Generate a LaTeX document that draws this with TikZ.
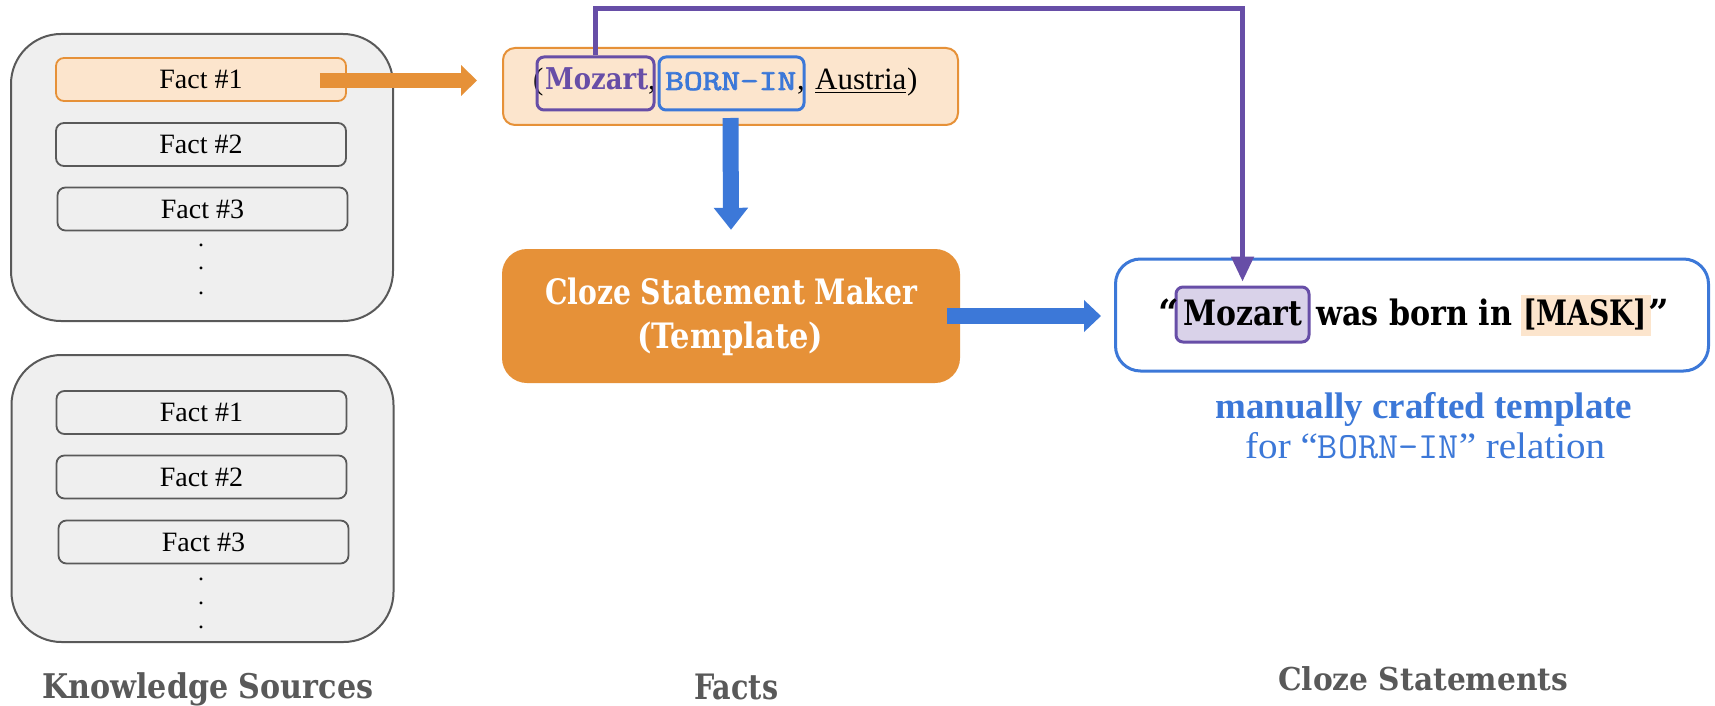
\documentclass[tikz,border=0pt]{standalone}
\usepackage{fontspec}
\usepackage{graphicx}
\setmainfont{Liberation Serif}
\newfontfamily\dvs{DejaVu Serif}
\newfontfamily\lmtt{Latin Modern Mono}
\newfontfamily\lmttb{Latin Modern Mono}[FakeBold=2.5]
\usetikzlibrary{arrows.meta,calc}
\definecolor{kgray}{HTML}{595959}
\definecolor{boxgray}{HTML}{EFEFEF}
\definecolor{orng}{HTML}{E69138}
\definecolor{lorng}{HTML}{FCE5CD}
\definecolor{purp}{HTML}{674EA7}
\definecolor{lpurp}{HTML}{D9D2E9}
\definecolor{blu}{HTML}{3C78D8}
\newcommand\fsz[1]{\fontsize{#1pt}{#1pt}\selectfont}
\newcommand\fitw[2]{\resizebox{#1pt}{\height}{#2}}
\tikzset{
  ksbox/.style={draw=kgray, fill=boxgray, line width=2pt, rounded corners=50pt,
    minimum width=382pt, minimum height=287pt, inner sep=0pt},
  factbox/.style={draw=kgray, fill=boxgray, line width=1.8pt, rounded corners=8pt,
    minimum width=290pt, minimum height=43pt, inner sep=0pt, font=\fsz{28}},
  hifact/.style={factbox, draw=orng, fill=lorng},
  dotn/.style={inner sep=0pt, anchor=base, font=\fsz{24}},
  txt/.style={inner sep=0pt, anchor=base west},
  ctxt/.style={inner sep=0pt, anchor=base},
  hlbox/.style={line width=3pt, rounded corners=7pt, inner sep=0pt},
  blockarrow/.style={line width=#1},
}
\begin{document}
\begin{tikzpicture}[x=1pt,y=-1pt]
\useasboundingbox (0,0) rectangle (1715,706);
\fill[white] (0,0) rectangle (1715,706);

% Knowledge source 1
\node[ksbox] (ks1) at (202,177.5) {};
\node[hifact] (f11) at (201,79.5) {Fact \#1};
\node[factbox] (f12) at (201,144.5) {Fact \#2};
\node[factbox] (f13) at (202.5,209) {Fact \#3};
\node[dotn] (d11) at (201,246.5) {.};
\node[dotn] (d12) at (201,269.5) {.};
\node[dotn] (d13) at (201,294.5) {.};

% Knowledge source 2
\node[ksbox] (ks2) at (202.5,498.5) {};
\node[factbox] (f21) at (201.5,412.5) {Fact \#1};
\node[factbox] (f22) at (201.5,477) {Fact \#2};
\node[factbox] (f23) at (203.5,542) {Fact \#3};
\node[dotn] (d21) at (201,580.5) {.};
\node[dotn] (d22) at (201,604.5) {.};
\node[dotn] (d23) at (201,628.5) {.};

% Fact tuple
\node[draw=orng, fill=lorng, line width=2pt, rounded corners=12pt,
  minimum width=455pt, minimum height=77pt, inner sep=0pt] (fb) at (730.5,86.5) {};
\node[txt, font=\fsz{31}] (lp) at (533,90) {(};
\node[txt, text=purp] (mzt1) at (545,90) {\fitw{103}{\dvs\bfseries\fsz{30}Mozart}};
\node[txt, font=\fsz{31}] (c1) at (648,90) {,};
\node[txt, text=blu] (bit) at (665,90) {\fitw{131}{\lmttb\fsz{29}BORN-IN}};
\node[txt, font=\fsz{31}] (c2) at (797,90) {,};
\node[txt, font=\fsz{31}] (au) at (815,90) {\underline{Austria}};
\node[txt, font=\fsz{31}] (rp) at (907,90) {)};
\node[hlbox, draw=purp, minimum width=117pt, minimum height=53pt] (mz1) at (595.5,83.5) {};
\node[hlbox, draw=blu, minimum width=145pt, minimum height=53pt] (bi) at (731.5,83.5) {};

% Cloze statement maker
\node[fill=orng, rounded corners=25pt, minimum width=458pt, minimum height=134pt,
  inner sep=0pt] (cm) at (731,316) {};
\node[ctxt, text=white] (cm1) at (731,304) {\fitw{372}{\dvs\bfseries\fsz{35}Cloze Statement Maker}};
\node[ctxt, text=white] (cm2) at (730,348) {\fitw{186}{\dvs\bfseries\fsz{35}(Template)}};

% Cloze statement
\node[draw=blu, fill=white, line width=3pt, rounded corners=25pt, minimum width=593pt,
  minimum height=112pt, inner sep=0pt] (cz) at (1412,315) {};
\node[fill=lorng, minimum width=130pt, minimum height=41pt, inner sep=0pt] (mk) at (1586,315.5) {};
\node[hlbox, draw=purp, fill=lpurp, minimum width=133pt, minimum height=55pt] (mz2) at (1242.5,314.5) {};
\node[txt] (q1) at (1158,325) {\dvs\bfseries\fsz{36}“};
\node[txt] (mzt2) at (1183,325) {\fitw{119}{\dvs\bfseries\fsz{35}Mozart}};
\node[txt] (wbi) at (1316,325) {\fitw{196}{\dvs\bfseries\fsz{35}was born in}};
\node[txt] (mkt) at (1523,325) {\fitw{124}{\dvs\bfseries\fsz{35}[MASK]}};
\node[txt] (q2) at (1648,325) {\dvs\bfseries\fsz{36}”};

\node[txt, text=blu] (mc1) at (1215,418) {\fitw{417}{\bfseries\fsz{37}manually crafted template}};
\node[txt, text=blu] (mc2) at (1245,458) {\fitw{360}{\fsz{37}for “{\lmtt BORN-IN}” relation}};

% Bottom labels
\node[txt, text=kgray] (lks) at (42,698) {\fitw{331}{\dvs\bfseries\fsz{34}Knowledge Sources}};
\node[txt, text=kgray] (lf) at (694,699) {\fitw{84}{\dvs\bfseries\fsz{35}Facts}};
\node[txt, text=kgray] (lcs) at (1278,690) {\fitw{290}{\dvs\bfseries\fsz{31.5}Cloze Statements}};

% Connectors
\coordinate (top) at (0,9);
\draw[purp, line width=5pt, -{Triangle[length=25pt,width=22pt]}]
  (mz1.north) -- (mz1.north |- top) -| ($(mz2.north)+(0,-4)$);
\draw[orng, blockarrow=15pt, -{Triangle[length=16pt,width=30pt]}]
  ($(f11.east)+(-27,1)$) -- ($(fb.west |- f11.east)+(-25,1)$);
\draw[blu, blockarrow=16pt, -{Triangle[length=22pt,width=33pt]}]
  ($(fb.south)+(0,-8)$) -- ($(cm.north)+(0,-19)$);
\draw[blu, blockarrow=16pt, -{Triangle[length=17pt,width=31pt]}]
  ($(cm.east)+(-13,0)$) -- ($(cz.west |- cm.east)+(-13,0)$);
\end{tikzpicture}
\end{document}
